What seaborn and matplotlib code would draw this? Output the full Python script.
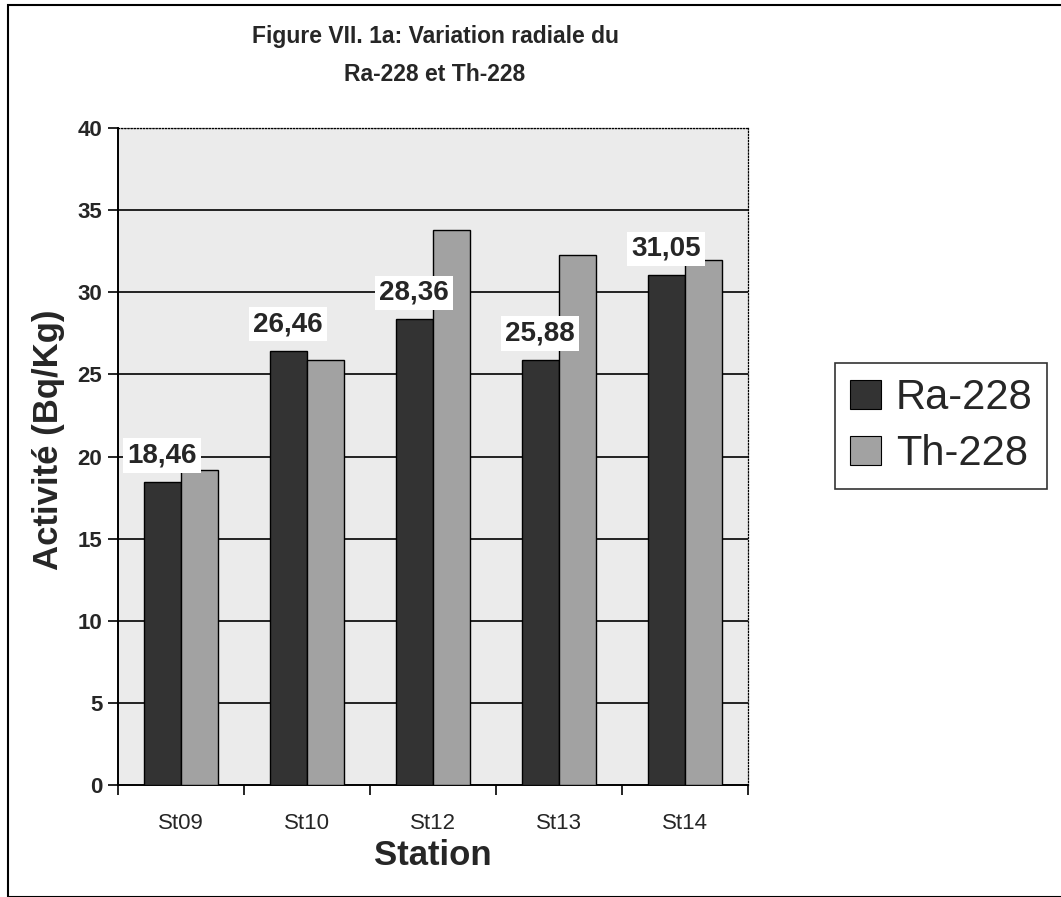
import matplotlib
matplotlib.use("Agg")
import matplotlib.pyplot as plt
from matplotlib import font_manager
import seaborn as sns
import pandas as pd
from matplotlib.patches import Rectangle

stations = ["St09", "St10", "St12", "St13", "St14"]
ra228 = [18.46, 26.46, 28.36, 25.88, 31.05]
th228 = [19.2, 25.9, 33.8, 32.3, 32.0]
ra_labels = ["18,46", "26,46", "28,36", "25,88", "31,05"]
series = ["Ra-228", "Th-228"]
yticks = [0, 5, 10, 15, 20, 25, 30, 35, 40]

df = pd.DataFrame({
    "Station": stations * 2,
    "Activite": ra228 + th228,
    "Isotope": [series[0]] * len(stations) + [series[1]] * len(stations),
})

sns.set_theme(style="white")
plt.rcParams["font.family"] = ["Liberation Sans", "DejaVu Sans"]

names = {f.name for f in font_manager.fontManager.ttflist}
if "Liberation Sans Narrow" in names:
    title_family = ["Liberation Sans Narrow", "Liberation Sans"]
    title_size = 19.5
else:
    title_family = ["Liberation Sans", "DejaVu Sans"]
    title_size = 16.5

fig = plt.figure(figsize=(10.61, 8.97), dpi=100)
ax = fig.add_axes([0.111, 0.125, 0.594, 0.732])
ax.set_facecolor("#ebebeb")

palette = {"Ra-228": "#333333", "Th-228": "#a2a2a2"}
sns.barplot(data=df, x="Station", y="Activite", hue="Isotope", palette=palette,
            width=0.59, gap=0, saturation=1, edgecolor="black", linewidth=1.0,
            legend=False, ax=ax, zorder=3)

ax.set_ylim(0, 40)
ax.set_xlim(-0.5, len(stations) - 0.5)
ax.set_yticks(yticks)
ax.set_yticklabels([str(v) for v in yticks], fontsize=16, fontweight="bold")
for v in yticks[1:-1]:
    ax.axhline(v, color="black", lw=1.2, zorder=1)
ax.axhline(40, color="black", lw=0.9, ls=(0, (1, 1.5)), zorder=1)

ax.set_xticks(range(len(stations)))
ax.set_xticklabels(stations, fontsize=16)
ax.set_xticks([i - 0.5 for i in range(len(stations) + 1)], minor=True)
ax.tick_params(axis="x", which="major", length=0, pad=20)
ax.tick_params(axis="x", which="minor", length=7, width=1.2, color="black", direction="out", bottom=True)
ax.tick_params(axis="y", which="major", length=7, width=1.2, color="black", direction="out", left=True, pad=4)

for s in ["left", "bottom"]:
    ax.spines[s].set_color("black")
    ax.spines[s].set_linewidth(1.4)
for s in ["top", "right"]:
    ax.spines[s].set_color("black")
    ax.spines[s].set_linewidth(0.9)
    ax.spines[s].set_linestyle((0, (1, 1.5)))

ax.set_xlabel("Station", fontsize=25, fontweight="bold", labelpad=4)
ax.set_ylabel("Activité (Bq/Kg)", fontsize=25, fontweight="bold")
ax.yaxis.set_label_coords(-0.083, 0.525)

# data labels for Ra-228 bars
ra_bars = ax.patches[:len(stations)]
for bar, lab, v in zip(ra_bars, ra_labels, ra228):
    cx = bar.get_x() + bar.get_width() / 2
    ax.annotate(lab, (cx, v), xytext=(0, 19), textcoords="offset points",
                ha="center", va="center", fontsize=20, fontweight="bold",
                bbox=dict(boxstyle="square,pad=0.15", fc="white", ec="none"),
                zorder=5)

fig.text(0.41, 0.972, "Figure VII. 1a: Variation radiale du\nRa-228 et Th-228",
         ha="center", va="top", fontsize=title_size, fontweight="bold",
         linespacing=1.85, family=title_family)

handles = [Rectangle((0, 0), 1, 1, fc=palette[s], ec="black", lw=0.8) for s in series]
leg = fig.legend(handles, series, loc="center", bbox_to_anchor=(0.887, 0.525),
                 fontsize=30, frameon=True, fancybox=False, edgecolor="black",
                 handlelength=0.75, handleheight=0.7, handletextpad=0.35,
                 labelspacing=0.4, borderpad=0.35, borderaxespad=0)
leg.get_frame().set_linewidth(1.2)

# outer chart border
fig.add_artist(Rectangle((0.008, 0.0), 1.2, 0.994, transform=fig.transFigure,
                         fill=False, ec="black", lw=1.5))

fig.savefig("out.png", dpi=100)
